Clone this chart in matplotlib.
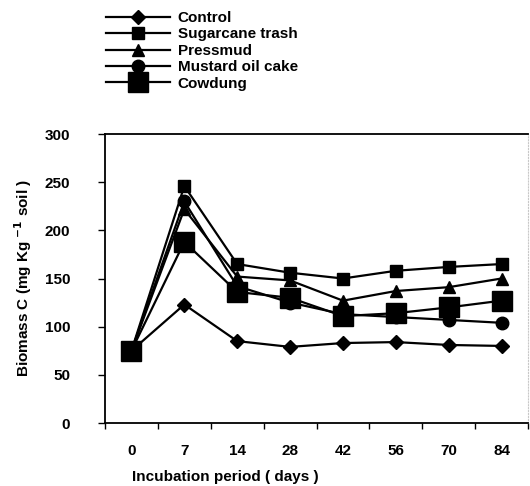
import matplotlib
matplotlib.use("Agg")
import matplotlib.pyplot as plt
import numpy as np

plt.rcParams['font.family'] = ['Liberation Sans', 'DejaVu Sans']
plt.rcParams['font.weight'] = 'bold'

days = ['0', '7', '14', '28', '42', '56', '70', '84']

control = [75, 123, 85, 79, 83, 84, 81, 80]
sugarcane_trash = [75, 246, 165, 156, 150, 158, 162, 165]
pressmud = [75, 222, 152, 148, 127, 137, 141, 150]
mustard_oil_cake = [75, 230, 142, 125, 113, 110, 107, 104]
cowdung = [75, 188, 136, 130, 111, 114, 120, 127]

fig = plt.figure(figsize=(5.3, 4.86), dpi=100)
ax = fig.add_axes([105/530, 1 - 423/486, 423/530, 289/486])

x = np.arange(len(days))
lw = 1.6
ax.plot(x, control, color='black', lw=lw, marker='D', ms=7, label='Control')
ax.plot(x, sugarcane_trash, color='black', lw=lw, marker='s', ms=9, label='Sugarcane trash')
ax.plot(x, pressmud, color='black', lw=lw, marker='^', ms=9, label='Pressmud')
ax.plot(x, mustard_oil_cake, color='black', lw=lw, marker='o', ms=9, label='Mustard oil cake')
ax.plot(x, cowdung, color='black', lw=lw, marker='s', ms=14, label='Cowdung')

ax.set_xlim(-0.5, len(days) - 0.5)
ax.set_ylim(0, 300)
ax.set_yticks([0, 50, 100, 150, 200, 250, 300])

# tick marks between categories, labels in the middle
ax.set_xticks(np.arange(-0.5, len(days), 1.0))
ax.set_xticklabels([])
ax.set_xticks(x, minor=True)
ax.set_xticklabels(days, minor=True)
ax.tick_params(axis='x', which='major', direction='out', length=4, width=1)
ax.tick_params(axis='x', which='minor', length=0, pad=15, labelsize=11)
ax.tick_params(axis='y', direction='out', length=5, width=1, pad=20, labelsize=11)

for side in ['left', 'bottom', 'top']:
    ax.spines[side].set_linewidth(1.3)
ax.spines['right'].set_color('#c8c8c8')
ax.spines['right'].set_linestyle(':')

ax.set_xlabel('Incubation period ( days )', fontsize=11, fontweight='bold', labelpad=9, x=0.284)
ax.set_ylabel('Biomass C (mg Kg $^{\\mathbf{-1}}$ soil )', fontsize=11, fontweight='bold', labelpad=8)

fig.legend(loc='upper left', bbox_to_anchor=(106/530, 1 - 11/486), frameon=False,
           numpoints=1, handlelength=4.2, handletextpad=0.5, labelspacing=0.16,
           borderpad=0, borderaxespad=0, prop={'size': 11, 'weight': 'bold'})

fig.savefig('out.png', dpi=100)
